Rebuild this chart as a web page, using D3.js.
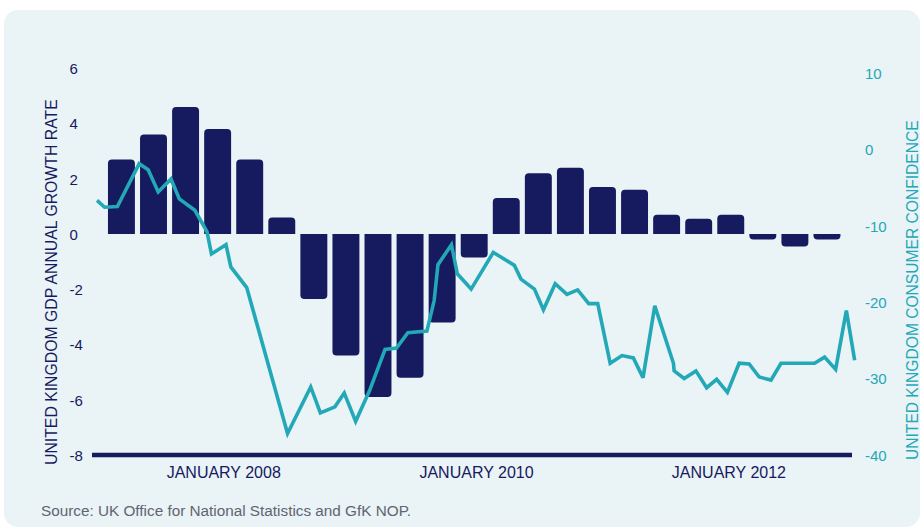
<!DOCTYPE html>
<html>
<head>
<meta charset="utf-8">
<script src="https://cdn.jsdelivr.net/npm/d3@7"></script>
<style>
  html, body { margin: 0; padding: 0; background: #ffffff; }
  svg { display: block; font-family: "Liberation Sans", Arial, Helvetica, sans-serif; }
</style>
</head>
<body>
<svg id="chart" width="923" height="530"></svg>
<script>
// Quarterly UK GDP growth (annual rate, %)
const quarters = [
  "2007 Q2", "2007 Q3", "2007 Q4",
  "2008 Q1", "2008 Q2", "2008 Q3", "2008 Q4",
  "2009 Q1", "2009 Q2", "2009 Q3", "2009 Q4",
  "2010 Q1", "2010 Q2", "2010 Q3", "2010 Q4",
  "2011 Q1", "2011 Q2", "2011 Q3", "2011 Q4",
  "2012 Q1", "2012 Q2", "2012 Q3", "2012 Q4"
];
const gdpGrowth = [
  2.7, 3.6, 4.6,
  3.8, 2.7, 0.6, -2.35,
  -4.4, -5.9, -5.2, -3.2,
  -0.85, 1.3, 2.2, 2.4,
  1.7, 1.6, 0.7, 0.55,
  0.7, -0.2, -0.45, -0.2
];

// GfK consumer confidence index readings
const confDates = [
  "2007-01-01", "2007-01-23", "2007-03-01", "2007-05-03", "2007-05-29", "2007-06-27",
  "2007-08-03", "2007-08-27", "2007-10-11", "2007-11-15", "2007-11-28", "2008-01-09",
  "2008-01-23", "2008-03-09", "2008-07-05", "2008-09-10", "2008-10-08", "2008-11-19",
  "2008-12-16", "2009-01-18", "2009-02-27", "2009-04-13", "2009-05-16", "2009-06-18",
  "2009-08-12", "2009-09-02", "2009-09-13", "2009-10-22", "2009-11-08", "2009-12-18",
  "2010-02-20", "2010-04-22", "2010-05-11", "2010-06-19", "2010-07-15", "2010-08-18",
  "2010-09-21", "2010-10-22", "2010-11-23", "2010-12-19", "2011-01-24", "2011-02-27",
  "2011-04-01", "2011-04-29", "2011-06-02", "2011-07-26", "2011-07-28", "2011-08-26",
  "2011-09-29", "2011-10-30", "2011-11-28", "2011-12-29", "2012-02-01", "2012-03-01",
  "2012-03-30", "2012-05-03", "2012-06-01", "2012-09-06", "2012-10-05", "2012-11-06",
  "2012-12-07", "2012-12-31"
];
const confValues = [
  -6.7, -7.6, -7.5, -1.9, -2.7, -5.6,
  -3.9, -6.5, -8.0, -10.8, -13.7, -12.5,
  -15.4, -18.1, -37.2, -31.1, -34.5, -33.7,
  -31.9, -35.6, -31.6, -26.2, -26.0, -24.0,
  -23.8, -19.8, -15.1, -12.5, -16.3, -18.3,
  -13.5, -15.2, -17.0, -18.3, -21.0, -17.6,
  -19.0, -18.4, -20.2, -20.2, -28.0, -27.0,
  -27.3, -29.9, -20.5, -28.0, -29.0, -30.0,
  -29.0, -31.2, -30.1, -31.8, -28.0, -28.1,
  -29.8, -30.2, -28.0, -28.0, -27.2, -28.8,
  -21.1, -27.6
];

// Axis ticks
const gdpTicks = [-8, -6, -4, -2, 0, 2, 4, 6];
const confTicks = [-40, -30, -20, -10, 0, 10];
const yearTicks = ["2008-01-01", "2010-01-01", "2012-01-01"];

const NAVY = "#161a5f";
const TEAL = "#22a8b6";

const parse = d3.timeParse("%Y-%m-%d");
const svg = d3.select("#chart");

// Panel background
svg.append("rect")
  .attr("x", 4).attr("y", 10)
  .attr("width", 916).attr("height", 517)
  .attr("rx", 14).attr("ry", 14)
  .attr("fill", "#eaf3f6");

// Scales
const yGdp = d3.scaleLinear().domain([-8, 6]).range([455, 68.3]);
const yConf = d3.scaleLinear().domain([-40, 10]).range([455, 72.7]);
const xBand = d3.scaleBand().domain(quarters).range([105.4, 843.0])
  .paddingInner(0.16).paddingOuter(0.08);
const xTime = d3.scaleTime()
  .domain([new Date(2007, 0, 1), new Date(2013, 0, 1)])
  .range([97, 855]);

// Bar with rounded corners at the end away from the baseline
function barPath(x, w, y0, y1, r) {
  const dir = y1 < y0 ? 1 : -1;
  const len = Math.abs(y1 - y0);
  r = Math.min(r, len, w / 2);
  const p = d3.path();
  p.moveTo(x, y0);
  p.lineTo(x, y1 + dir * r);
  p.quadraticCurveTo(x, y1, x + r, y1);
  p.lineTo(x + w - r, y1);
  p.quadraticCurveTo(x + w, y1, x + w, y1 + dir * r);
  p.lineTo(x + w, y0);
  p.closePath();
  return p.toString();
}

const bars = quarters.map((q, i) => ({ q, v: gdpGrowth[i] }));
svg.append("g").selectAll("path")
  .data(bars)
  .join("path")
  .attr("d", d => barPath(xBand(d.q), xBand.bandwidth(), yGdp(0), yGdp(d.v), 4))
  .attr("fill", NAVY);

// Consumer confidence line
const conf = confDates.map((d, i) => ({ date: parse(d), v: confValues[i] }));
svg.append("path")
  .datum(conf)
  .attr("d", d3.line().x(d => xTime(d.date)).y(d => yConf(d.v)))
  .attr("fill", "none")
  .attr("stroke", TEAL)
  .attr("stroke-width", 3.6)
  .attr("stroke-linejoin", "miter")
  .attr("stroke-miterlimit", 3);

// Base line
svg.append("line")
  .attr("x1", 92).attr("x2", 852)
  .attr("y1", yGdp(-8)).attr("y2", yGdp(-8))
  .attr("stroke", NAVY).attr("stroke-width", 4.6);

// Plain hyphen for negative tick labels
const plain = d => String(d);

// Left axis labels
const leftAxis = svg.append("g")
  .attr("transform", "translate(69.5,0)")
  .call(d3.axisRight(yGdp).tickValues(gdpTicks).tickSize(0).tickPadding(0).tickFormat(plain));
leftAxis.select(".domain").remove();
leftAxis.selectAll("text")
  .attr("fill", NAVY).attr("font-size", 15).attr("font-family", null)
  .attr("dy", "0.36em");

// Right axis labels
const rightAxis = svg.append("g")
  .attr("transform", "translate(865,0)")
  .call(d3.axisRight(yConf).tickValues(confTicks).tickSize(0).tickPadding(0).tickFormat(plain));
rightAxis.select(".domain").remove();
rightAxis.selectAll("text")
  .attr("fill", TEAL).attr("font-size", 15).attr("font-family", null)
  .attr("dy", "0.36em");

// Bottom axis labels
const fmtYear = d3.timeFormat("%Y");
const bottomAxis = svg.append("g")
  .attr("transform", "translate(0,455)")
  .call(d3.axisBottom(xTime).tickValues(yearTicks.map(parse))
    .tickSize(0).tickPadding(12).tickFormat(d => "JANUARY " + fmtYear(d)));
bottomAxis.select(".domain").remove();
bottomAxis.selectAll("text")
  .attr("fill", NAVY).attr("font-size", 16).attr("font-family", null);

// Axis titles
svg.append("text")
  .attr("transform", "translate(56.5,465) rotate(-90)")
  .attr("text-anchor", "start")
  .attr("font-size", 15.8)
  .attr("fill", NAVY)
  .text("UNITED KINGDOM GDP ANNUAL GROWTH RATE");

svg.append("text")
  .attr("transform", "translate(918,460) rotate(-90)")
  .attr("text-anchor", "start")
  .attr("font-size", 15.6)
  .attr("fill", TEAL)
  .text("UNITED KINGDOM CONSUMER CONFIDENCE");

// Source note
svg.append("text")
  .attr("x", 41).attr("y", 516)
  .attr("font-size", 15.3)
  .attr("fill", "#5f6570")
  .text("Source: UK Office for National Statistics and GfK NOP.");
</script>
</body>
</html>
